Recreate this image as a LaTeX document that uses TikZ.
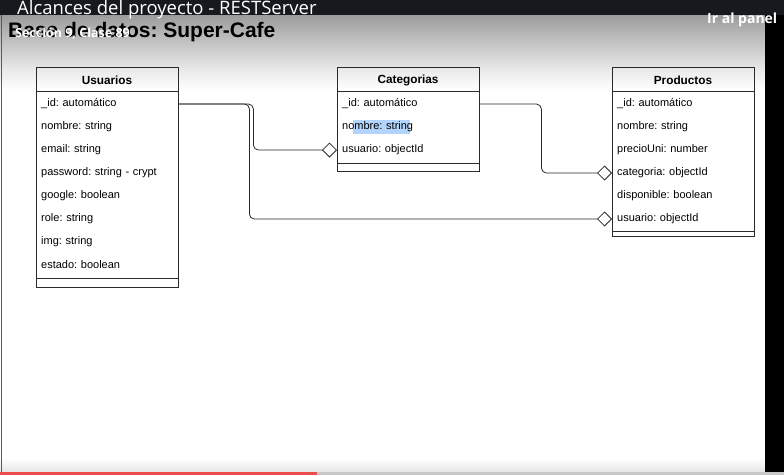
\documentclass[tikz,border=0pt]{standalone}
\usepackage{fontspec}
\setmainfont{Liberation Sans}
\newfontfamily\ovfont{Open Sans}
\usetikzlibrary{arrows.meta}
\frenchspacing
\definecolor{topbar}{HTML}{16191D}
\definecolor{shA}{HTML}{9C9C9C}
\definecolor{shB}{HTML}{EAEAEA}
\definecolor{lineC}{HTML}{2A2A2A}
\definecolor{selC}{HTML}{B3D4FC}
\definecolor{progR}{HTML}{EE4B4B}
\definecolor{progG}{HTML}{C8C8C8}
\begin{document}
\begin{tikzpicture}[x=1pt,y=-1pt,
  field/.style={anchor=west, inner xsep=5pt, inner ysep=0pt, text width=132pt,
    minimum height=23pt, align=left, font=\fontsize{11}{13}\selectfont},
  header/.style={inner sep=0pt, font=\bfseries\fontsize{11.8}{14}\selectfont},
  boxline/.style={draw=lineC, line width=0.9pt},
  link/.style={draw=lineC, line width=0.8pt, rounded corners=5pt},
  agg/.style={-{Diamond[open, length=15pt, width=15pt]}},
  overlay/.style={inner sep=0pt, text=white, anchor=base west}
]
\useasboundingbox (0,0) rectangle (784,475);
% background
\fill[white] (0,0) rectangle (784,475);
\shade[top color=shA, bottom color=shB] (0,15) rectangle (784,70);
\shade[top color=shB, bottom color=white] (0,70) rectangle (784,90);
\shade[top color=white, bottom color=black!10] (0,458) rectangle (784,472);
\fill[topbar] (0,0) rectangle (784,15);
\fill[black] (765,15) rectangle (784,475);
\draw[black!65, line width=1.2pt] (1.5,15) -- (1.5,472);
\fill[progG] (0,472) rectangle (784,475);
\fill[progR] (0,472) rectangle (317,475);

% title
\node[inner sep=0pt, anchor=base west, font=\bfseries\fontsize{21}{24}\selectfont] (title) at (8,37) {Base de datos: Super-Cafe};

% Usuarios
\draw[boxline] (36,67) rectangle (178,287);
\draw[boxline] (36,91) -- (178,91);
\draw[boxline] (36,278) -- (178,278);
\node[header] (uhead) at (107,80.5) {Usuarios};
\node[field] (uid) at (36,104) {\_id: automático};
\node[field] (unom) at (36,127) {nombre: string};
\node[field] (uemail) at (36,150) {email: string};
\node[field] (upass) at (36,173) {password: string - crypt};
\node[field] (ugoog) at (36,196) {google: boolean};
\node[field] (urole) at (36,219) {role: string};
\node[field] (uimg) at (36,242) {img: string};
\node[field] (uest) at (36,265) {estado: boolean};

% Categorias
\fill[selC] (353,120) rectangle (410,134);
\draw[boxline] (337,67) rectangle (479,171);
\draw[boxline] (337,91) -- (479,91);
\draw[boxline] (337,163) -- (479,163);
\node[header] (chead) at (408,80.5) {Categorias};
\node[field] (cid) at (337,104) {\_id: automático};
\node[field] (cnom) at (337,127) {nombre: string};
\node[field] (cusu) at (337,150) {usuario: objectId};

% Productos
\draw[boxline] (612,67) rectangle (754,236);
\draw[boxline] (612,91) -- (754,91);
\draw[boxline] (612,231) -- (754,231);
\node[header] (phead) at (683,80.5) {Productos};
\node[field] (pid) at (612,104) {\_id: automático};
\node[field] (pnom) at (612,127) {nombre: string};
\node[field] (pprec) at (612,150) {precioUni: number};
\node[field] (pcat) at (612,173) {categoria: objectId};
\node[field] (pdisp) at (612,196) {disponible: boolean};
\node[field] (pusu) at (612,219) {usuario: objectId};

% connectors
\draw[link, agg] (uid.east) -- ++(75,0) |- (cusu.west);
\draw[link, agg] (uid.east) -- ++(71,0) |- (pusu.west);
\draw[link, agg] (cid.east) -- ++(62,0) |- (pcat.west);

% video overlay texts
\node[overlay, font=\ovfont\fontsize{18.5}{20}\selectfont] (vtitle) at (17,14) {Alcances del proyecto - RESTServer};
\node[overlay, font=\ovfont\bfseries\fontsize{14}{16}\selectfont] (vpanel) at (707,23) {Ir al panel};
\node[overlay, font=\ovfont\bfseries\fontsize{12.5}{14}\selectfont] (vsec) at (15,37) {Sección 9, Clase 89};
\end{tikzpicture}
\end{document}
